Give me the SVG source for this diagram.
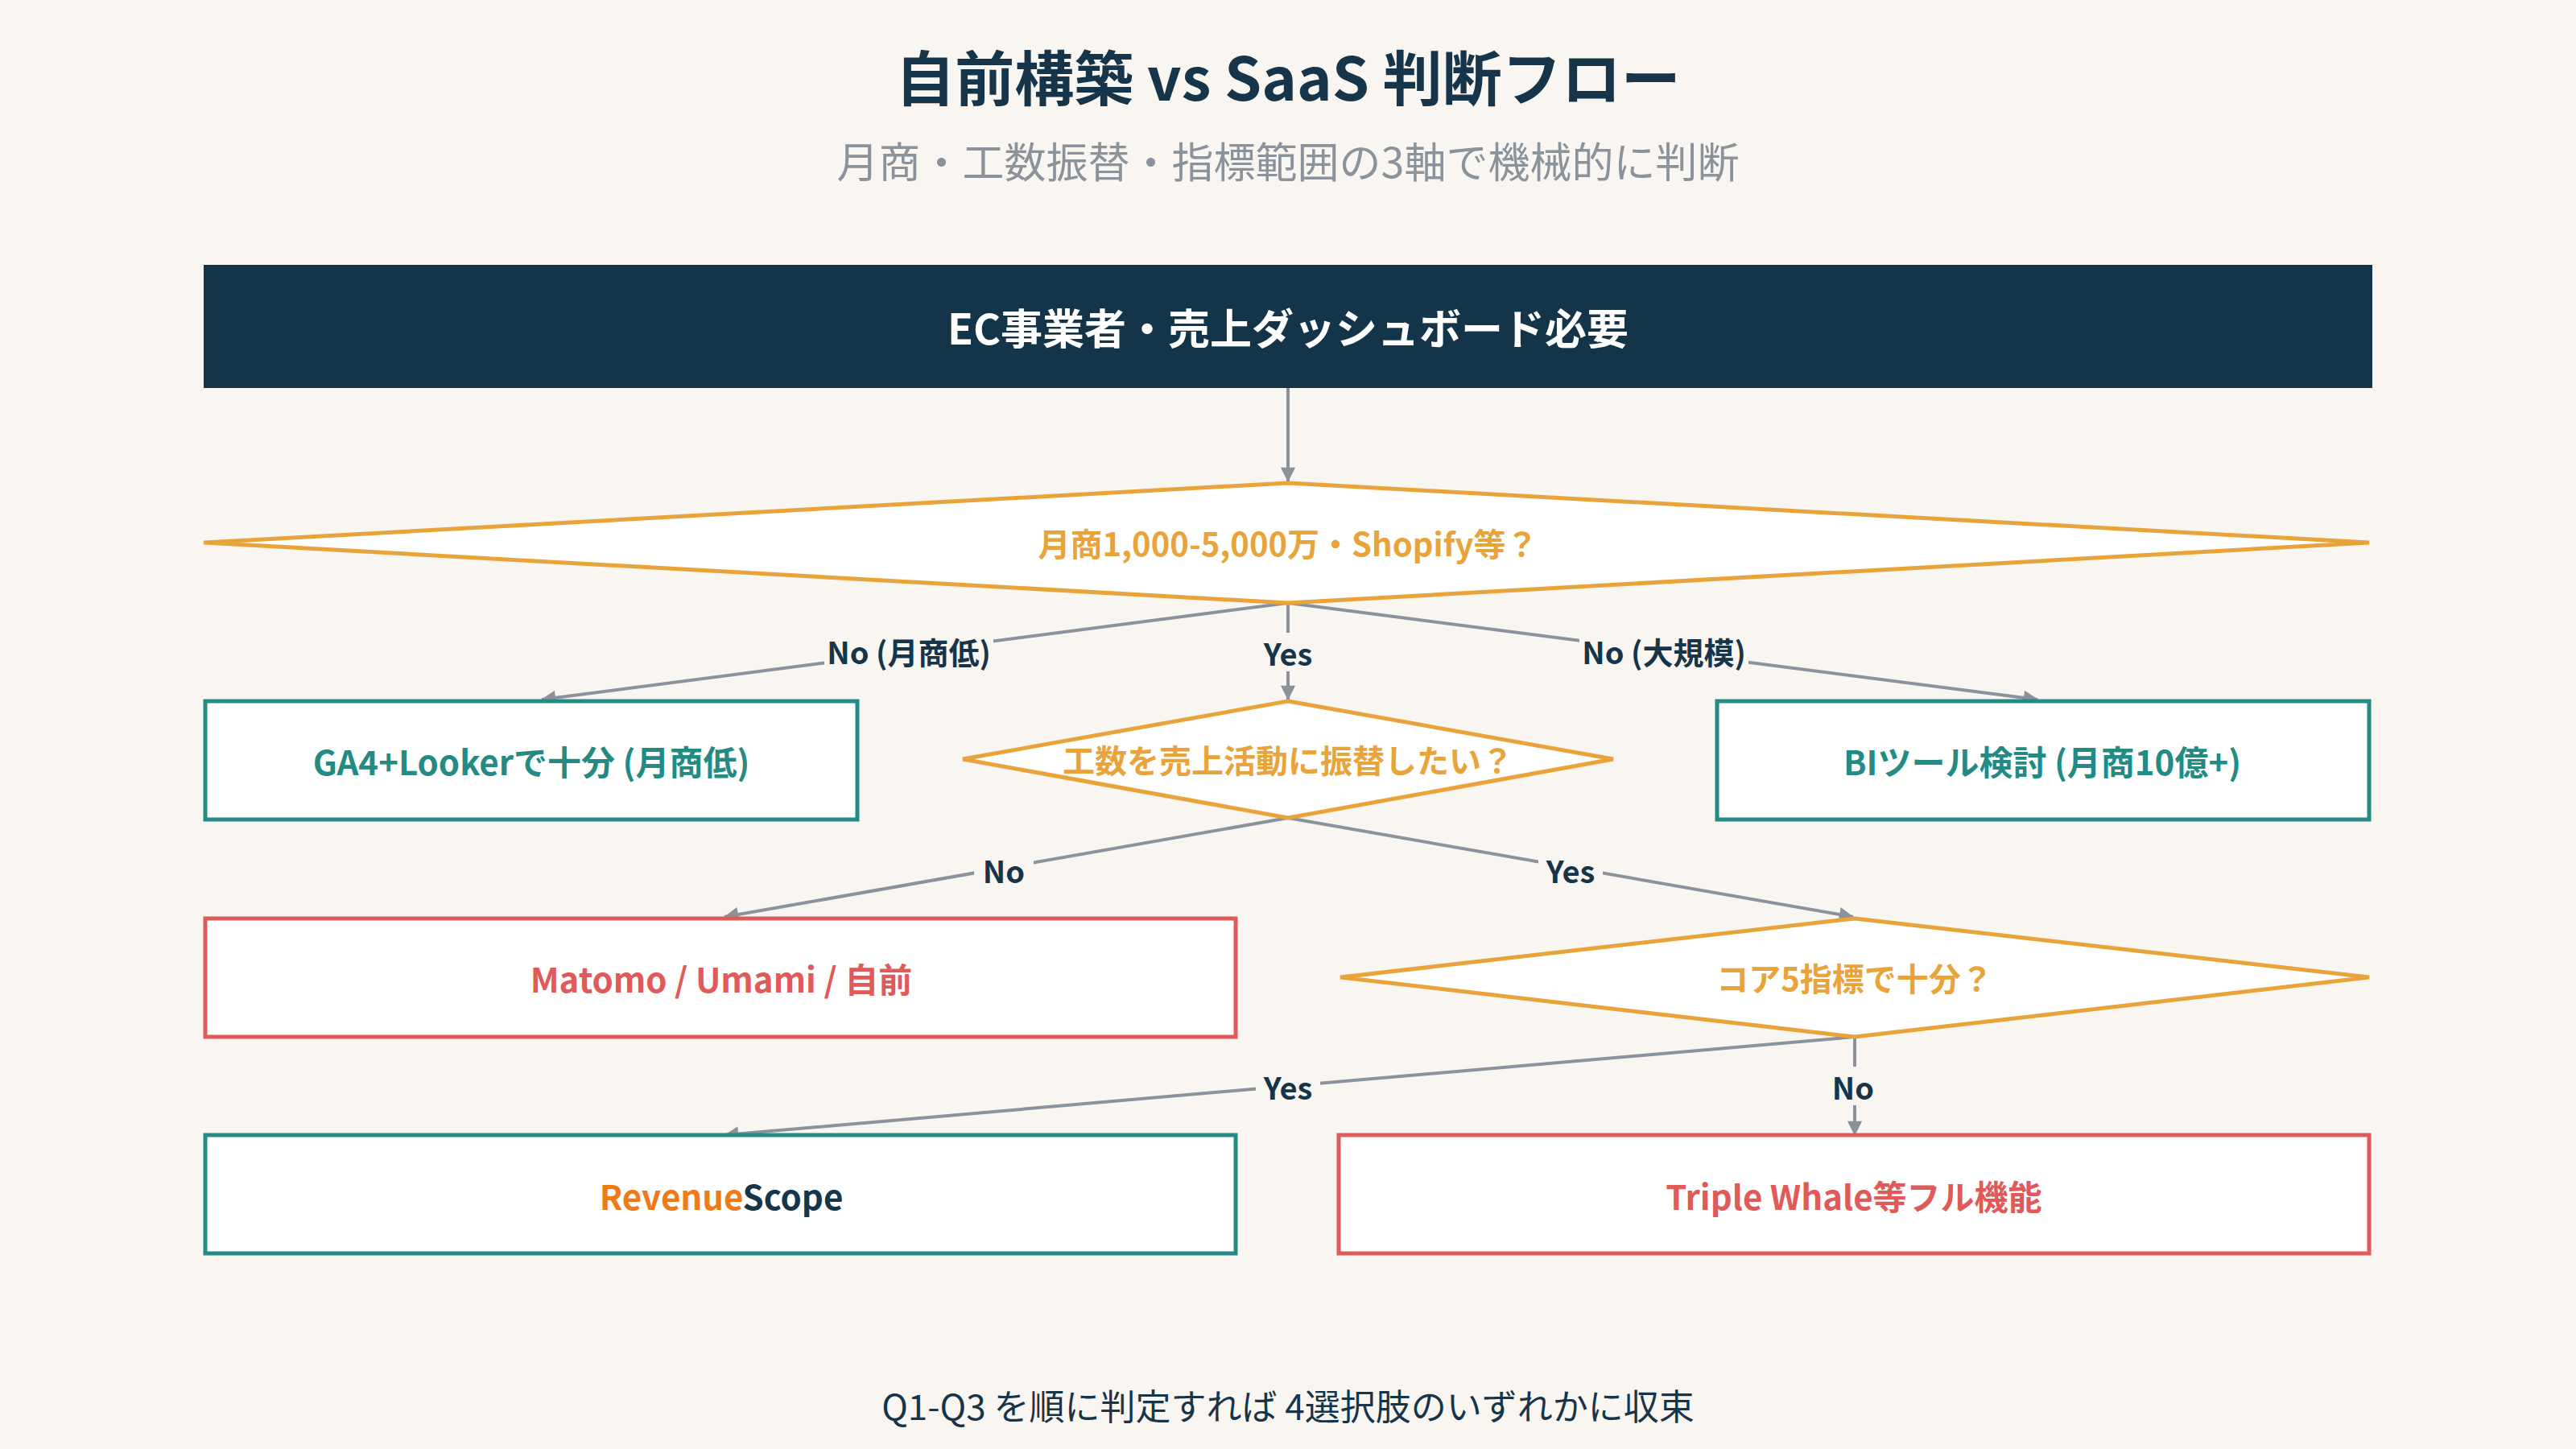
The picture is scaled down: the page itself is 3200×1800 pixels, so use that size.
<svg xmlns="http://www.w3.org/2000/svg" width="3200" height="1800" viewBox="0 0 3200 1800">
<style>
text{font-family:"Noto Sans CJK JP","Noto Sans",sans-serif;text-anchor:middle;dominant-baseline:central}
.t{font-size:74px;font-weight:700;fill:#16354a}
.s{font-size:52px;fill:#8a929c}
.n{font-size:42px;font-weight:700}
.d{fill:#fff;stroke:#e8a43a;stroke-width:5}
.dt{fill:#e8a43a;font-size:40px;font-weight:700}
.teal{fill:#fff;stroke:#238a84;stroke-width:5}
.red{fill:#fff;stroke:#e05a5a;stroke-width:5}
.c{stroke:#8a929c;stroke-width:4;fill:none;marker-end:url(#a)}
.l{font-size:38px;font-weight:700;fill:#16354a}
.lb{fill:#f9f6f1}
</style>
<defs><marker id="a" viewBox="0 0 10 10" refX="9" refY="5" markerWidth="7" markerHeight="7" orient="auto" markerUnits="userSpaceOnUse" style="overflow:visible"><path d="M0,0L10,5L0,10z" fill="#8a929c" transform="scale(2.6) translate(-6,-3.1)"/></marker></defs>
<rect width="3200" height="1800" fill="#f9f6f1"/>
<text class="t" x="1600" y="92">自前構築 vs SaaS 判断フロー</text>
<text class="s" x="1600" y="198">月商・工数振替・指標範囲の3軸で機械的に判断</text>
<g id="connectors">
<path class="c" d="M1600,482V598"/>
<path class="c" d="M1600,749L673,869"/>
<path class="c" d="M1600,749V869"/>
<path class="c" d="M1600,749L2531,869"/>
<path class="c" d="M1600,1016L900,1139"/>
<path class="c" d="M1600,1016L2302,1139"/>
<path class="c" d="M2304,1288L900,1410"/>
<path class="c" d="M2304,1288V1410"/>
<rect class="lb" x="1024" y="784" width="210" height="48"/><text class="l" x="1129" y="808">No (月商低)</text>
<rect class="lb" x="1560" y="786" width="80" height="48"/><text class="l" x="1600" y="810">Yes</text>
<rect class="lb" x="1962" y="784" width="210" height="48"/><text class="l" x="2067" y="808">No (大規模)</text>
<rect class="lb" x="1210" y="1056" width="74" height="48"/><text class="l" x="1247" y="1080">No</text>
<rect class="lb" x="1911" y="1056" width="80" height="48"/><text class="l" x="1951" y="1080">Yes</text>
<rect class="lb" x="1560" y="1325" width="80" height="48"/><text class="l" x="1600" y="1349">Yes</text>
<rect class="lb" x="2265" y="1325" width="74" height="48"/><text class="l" x="2302" y="1349">No</text>
</g>
<g id="start"><rect x="253" y="329" width="2694" height="153" fill="#143549"/><text x="1600" y="405" fill="#fff" font-size="52" font-weight="700">EC事業者・売上ダッシュボード必要</text></g>
<g id="q1"><polygon class="d" points="1600,600 2943,674 1600,749 253,674"/><text class="dt" x="1600" y="674">月商1,000-5,000万・Shopify等？</text></g>
<g id="ga4"><rect class="teal" x="255" y="871" width="810" height="147"/><text class="n" x="660" y="944" fill="#238a84">GA4+Lookerで十分 (月商低)</text></g>
<g id="q2"><polygon class="d" points="1600,871 2004,943 1600,1016 1196,943"/><text class="dt" x="1600" y="943">工数を売上活動に振替したい？</text></g>
<g id="bi"><rect class="teal" x="2133" y="871" width="810" height="147"/><text class="n" x="2537" y="944" fill="#238a84">BIツール検討 (月商10億+)</text></g>
<g id="matomo"><rect class="red" x="255" y="1141" width="1280" height="147"/><text class="n" x="896" y="1214" fill="#e05a5a">Matomo / Umami / 自前</text></g>
<g id="q3"><polygon class="d" points="2304,1141 2943,1214 2304,1288 1665,1214"/><text class="dt" x="2304" y="1214">コア5指標で十分？</text></g>
<g id="rs"><rect class="teal" x="255" y="1410" width="1280" height="147"/><text class="n" x="896" y="1484"><tspan fill="#f07a1a">Revenue</tspan><tspan fill="#16354a">Scope</tspan></text></g>
<g id="tw"><rect class="red" x="1663" y="1410" width="1280" height="147"/><text class="n" x="2303" y="1484" fill="#e05a5a">Triple Whale等フル機能</text></g>
<text x="1600" y="1745" font-size="44" fill="#16354a">Q1-Q3 を順に判定すれば 4選択肢のいずれかに収束</text>
</svg>
